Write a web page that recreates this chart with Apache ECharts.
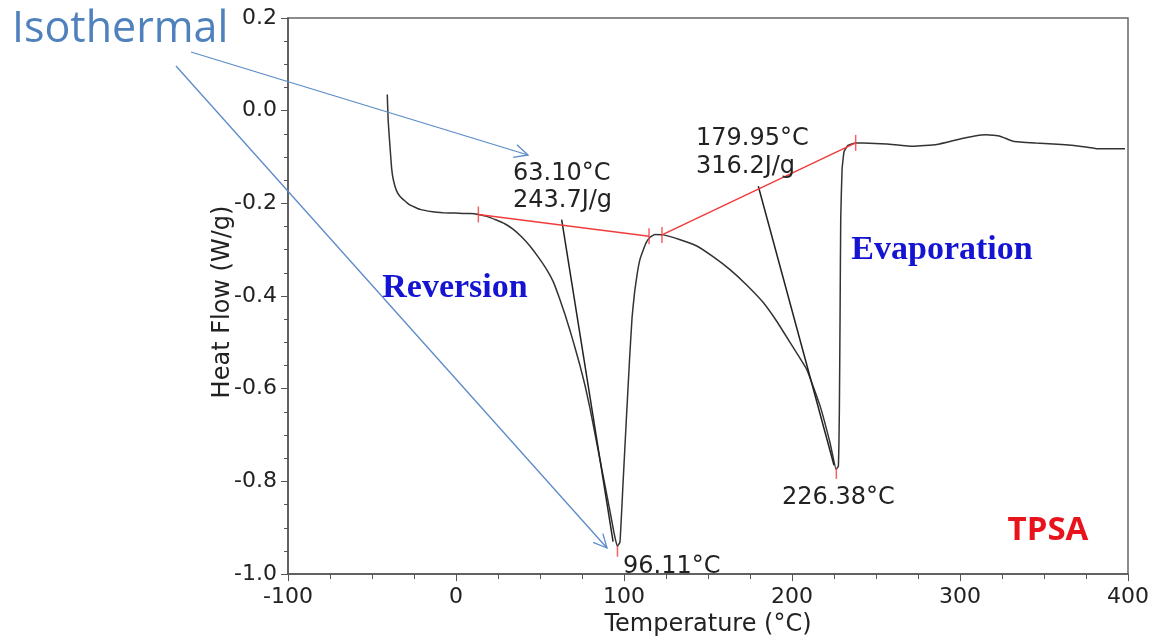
<!DOCTYPE html>
<html>
<head>
<meta charset="utf-8">
<title>TPSA heat flow</title>
<script src="https://cdn.jsdelivr.net/npm/echarts@6/dist/echarts.min.js"></script>
<style>
  html, body { margin : 0; padding : 0; background : #fff; }
  #chart { width : 1160px; height : 642px; }
</style>
</head>
<body>
<div id="chart"></div>
<script>
// ---------------------- BEGIN DATA ---------------------
// DSC trace, temperature (°C) and heat flow (W/g)
var curveTemp = [
  -40.9, -40.4, -39.3, -38.3, -37.3, -35.5, -33.3, -28, -21.4, -14, -7.7, 0, 8.3,
  13.3, 18.3, 24, 29, 34.1, 39, 44, 49, 54, 58, 61.9, 64.9, 67.9, 70.8, 73.8,
  76.8, 79.8, 82.7, 85.7, 88.7, 91.7, 94.0, 96.0, 97.6, 99.4, 101.4, 103.3, 104.8,
  106.3, 107.8, 109.5, 111.5, 113.3, 115.5, 118.5, 123.4, 133, 143.3, 153, 163.1, 173, 182.9,
  191, 198.8, 208.7, 216.7, 222.6, 226.3, 227.6, 228.2, 228.6, 229, 229.8, 231,
  233.3, 237.9, 242.4, 256.4, 272.2, 286.1, 300, 308, 315.9, 323.8, 331.7, 345,
  355.4, 370, 381.4, 398.2
];
var curveFlow = [
  0.035, -0.02, -0.077, -0.125, -0.149, -0.172, -0.185, -0.202, -0.213, -0.218, -0.220, -0.221, -0.222,
  -0.224, -0.228, -0.236, -0.244, -0.256, -0.272, -0.292, -0.316, -0.343, -0.370, -0.408, -0.440, -0.475, -0.511, -0.550,
  -0.593, -0.643, -0.697, -0.753, -0.809, -0.865, -0.910, -0.940, -0.931, -0.806, -0.666, -0.537, -0.446,
  -0.392, -0.353, -0.321, -0.300, -0.284, -0.273, -0.267, -0.268, -0.278, -0.292, -0.315, -0.343, -0.376, -0.414,
  -0.455, -0.500, -0.558, -0.637, -0.716, -0.774, -0.767, -0.644, -0.450, -0.235, -0.127, -0.088,
  -0.075, -0.0695, -0.070, -0.072, -0.077, -0.073, -0.061, -0.055, -0.052, -0.055, -0.066, -0.070,
  -0.072, -0.076, -0.082, -0.082
];

// integration baselines (red)
var base1Temp = [13.3, 114.9];
var base1Flow = [-0.224, -0.271];
var base2Temp = [122.6, 237.9];
var base2Flow = [-0.268, -0.0695];

// onset tangents (black)
var tan1Temp = [62.9, 93.5];
var tan1Flow = [-0.235, -0.930];
var tan2Temp = [179.95, 225.0];
var tan2Flow = [-0.163, -0.765];

// peaks
var peakTemp = [96.11, 226.38];
var peakFlow = [-0.942, -0.774];

// texts
var onsetLabels = [['63.10°C', '243.7J/g'], ['179.95°C', '316.2J/g']];
var peakLabels = ['96.11°C', '226.38°C'];
var stageLabels = ['Reversion', 'Evaporation'];
var noteLabel = 'Isothermal';
var sampleLabel = 'TPSA';

// axes
var xRange = [-100, 400, 100];
var yRange = [-1.0, 0.2, 0.2];
// ----------------------- END DATA ----------------------

var heatFlowChart = (function () {
  var
    tickFont = 'DejaVu Sans',
    pairUp, arrowParts, textItem, buildOption, initModule
  ;

  // zip two arrays into [x, y] pairs
  pairUp = function (xs, ys) {
    var i, out = [];
    for (i = 0; i < xs.length; i++) {
      out.push([xs[i], ys[i]]);
    }
    return out;
  };

  // line + open arrow head, pixel coords
  arrowParts = function (x1, y1, x2, y2) {
    var ang = Math.atan2(y2 - y1, x2 - x1),
      len = 15, spread = 0.45,
      color = '#5b8bc8';
    return [
      {
        type : 'line', z : 20,
        shape : { x1 : x1, y1 : y1, x2 : x2, y2 : y2 },
        style : { stroke : color, lineWidth : 1.3 }
      },
      {
        type : 'polyline', z : 20,
        shape : { points : [
          [x2 - len * Math.cos(ang - spread), y2 - len * Math.sin(ang - spread)],
          [x2, y2],
          [x2 - len * Math.cos(ang + spread), y2 - len * Math.sin(ang + spread)]
        ] },
        style : { stroke : color, lineWidth : 1.3, fill : null }
      }
    ];
  };

  textItem = function (txt, x, y, font, color, align, rot) {
    return {
      type : 'text', z : 30,
      x : x, y : y, rotation : rot || 0,
      style : {
        text : txt, font : font, fill : color,
        align : align, verticalAlign : 'middle',
        textAlign : align, textVerticalAlign : 'middle'
      }
    };
  };

  buildOption = function () {
    var graphics = [], labelFont = '24px "DejaVu Sans"', ink = '#222';

    graphics = graphics.concat(arrowParts(191, 52, 528, 155));
    graphics = graphics.concat(arrowParts(176, 66, 607, 548));

    graphics.push(textItem(noteLabel, 12, 30, '43px "Open Sans"', '#4f81bd', 'left'));
    graphics.push(textItem(stageLabels[0], 455, 288, 'bold 34px "Liberation Serif"', '#1414d2', 'center'));
    graphics.push(textItem(stageLabels[1], 942, 250, 'bold 34px "Liberation Serif"', '#1414d2', 'center'));
    graphics.push(textItem(sampleLabel, 1048, 531, 'bold 33px "Open Sans"', '#e8141c', 'center'));

    graphics.push(textItem(onsetLabels[0][0], 513, 174, labelFont, ink, 'left'));
    graphics.push(textItem(onsetLabels[0][1], 513, 201, labelFont, ink, 'left'));
    graphics.push(textItem(onsetLabels[1][0], 696, 139, labelFont, ink, 'left'));
    graphics.push(textItem(onsetLabels[1][1], 696, 167, labelFont, ink, 'left'));
    graphics.push(textItem(peakLabels[0], 623, 567, labelFont, ink, 'left'));
    graphics.push(textItem(peakLabels[1], 782, 498, labelFont, ink, 'left'));

    // y axis title, rotated
    graphics.push(textItem('Heat Flow (W/g)', 223, 302, '24px "DejaVu Sans"', ink, 'center', Math.PI / 2));

    return {
      animation : false,
      backgroundColor : '#fff',
      grid : {
        left : 288, right : 32, top : 18, bottom : 67,
        show : true, borderColor : '#666', borderWidth : 1.5
      },
      xAxis : {
        type : 'value',
        min : xRange[0], max : xRange[1], interval : xRange[2],
        name : 'Temperature (°C)',
        nameLocation : 'middle', nameGap : 34,
        nameTextStyle : { fontFamily : tickFont, fontSize : 24, color : ink },
        axisLine : { onZero : false, lineStyle : { color : '#555', width : 1.5 } },
        axisTick : { length : 7, lineStyle : { color : '#555' } },
        minorTick : { show : true, splitNumber : 4, length : 5, lineStyle : { color : '#555' } },
        splitLine : { show : false },
        axisLabel : { margin : 12, fontFamily : tickFont, fontSize : 22, color : ink }
      },
      yAxis : {
        type : 'value',
        min : yRange[0], max : yRange[1], interval : yRange[2],
        axisLine : { show : true, onZero : false, lineStyle : { color : '#555', width : 1.5 } },
        axisTick : { show : true, length : 7, lineStyle : { color : '#555' } },
        minorTick : { show : true, splitNumber : 4, length : 4, lineStyle : { color : '#555' } },
        splitLine : { show : false },
        axisLabel : {
          margin : 11, fontFamily : tickFont, fontSize : 22, color : ink,
          formatter : function (v) { return v.toFixed(1); }
        }
      },
      graphic : graphics,
      series : [
        {
          name : 'heat flow', type : 'line',
          data : pairUp(curveTemp, curveFlow),
          showSymbol : false, z : 3, smooth : 0.12,
          lineStyle : { color : '#333', width : 1.5 }
        },
        {
          name : 'baseline 1', type : 'line',
          data : pairUp(base1Temp, base1Flow),
          showSymbol : false, z : 4,
          lineStyle : { color : '#f03c3c', width : 1.5 }
        },
        {
          name : 'baseline 2', type : 'line',
          data : pairUp(base2Temp, base2Flow),
          showSymbol : false, z : 4,
          lineStyle : { color : '#f03c3c', width : 1.5 }
        },
        {
          name : 'tangent 1', type : 'line',
          data : pairUp(tan1Temp, tan1Flow),
          showSymbol : false, z : 3,
          lineStyle : { color : '#222', width : 1.5 }
        },
        {
          name : 'tangent 2', type : 'line',
          data : pairUp(tan2Temp, tan2Flow),
          showSymbol : false, z : 3,
          lineStyle : { color : '#222', width : 1.5 }
        },
        {
          // limit ticks at baseline ends
          name : 'limits', type : 'scatter',
          data : pairUp(base1Temp.concat(base2Temp), base1Flow.concat(base2Flow)),
          symbol : 'rect', symbolSize : [1.5, 16], z : 5,
          itemStyle : { color : '#f03c3c' }
        },
        {
          name : 'peaks', type : 'scatter',
          data : pairUp(peakTemp, peakFlow),
          symbol : 'rect', symbolSize : [1.5, 11], symbolOffset : [0, 4], z : 5,
          itemStyle : { color : '#f03c3c' }
        }
      ]
    };
  };

  initModule = function (el) {
    var chart = echarts.init(el);
    chart.setOption(buildOption());
    return chart;
  };

  return { initModule : initModule };
}());

heatFlowChart.initModule(document.getElementById('chart'));
</script>
</body>
</html>
